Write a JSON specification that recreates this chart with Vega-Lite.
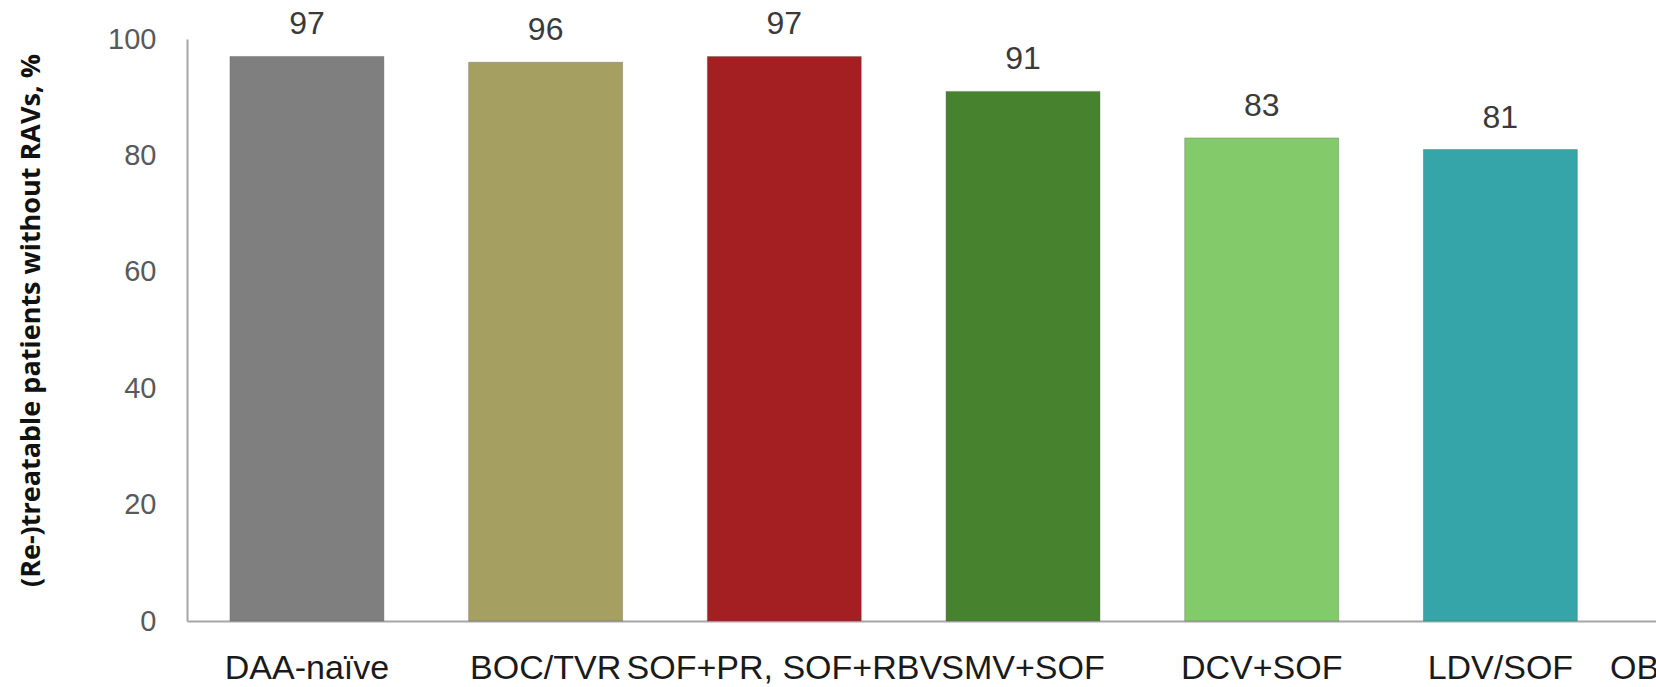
{
  "$schema": "https://vega.github.io/schema/vega-lite/v6.json",
  "autosize": {"type": "none"},
  "padding": {"left": 187, "top": 39, "right": 0, "bottom": 66},
  "width": 1469,
  "height": 582,
  "background": "white",
  "data": {
    "values": [
      {"regimen": "DAA-naïve", "pct": 97},
      {"regimen": "BOC/TVR", "pct": 96},
      {"regimen": "SOF+PR, SOF+RBV", "pct": 97},
      {"regimen": "SMV+SOF", "pct": 91},
      {"regimen": "DCV+SOF", "pct": 83},
      {"regimen": "LDV/SOF", "pct": 81},
      {"regimen": "OBV/PTV/r+DSV", "pct": 85}
    ]
  },
  "encoding": {
    "x": {
      "field": "regimen",
      "type": "nominal",
      "sort": null,
      "scale": {"range": [0, 1672], "paddingInner": 0.355, "paddingOuter": 0.18},
      "axis": {
        "title": null,
        "labelAngle": 0,
        "labelFont": "Liberation Sans",
        "labelFontSize": 34,
        "labelColor": "#1a1a1a",
        "labelPadding": 30,
        "labelLimit": 0,
        "labelOverlap": false,
        "labelBound": false,
        "ticks": false,
        "domainColor": "#a6a6a6",
        "domainWidth": 2
      }
    },
    "y": {
      "field": "pct",
      "type": "quantitative",
      "scale": {"domain": [0, 100], "nice": false},
      "axis": {
        "values": [0, 20, 40, 60, 80, 100],
        "grid": false,
        "ticks": false,
        "domainColor": "#a6a6a6",
        "domainWidth": 2,
        "labelFont": "Liberation Sans",
        "labelFontSize": 29,
        "labelColor": "#595959",
        "labelPadding": 31,
        "title": "(Re-)treatable patients without RAVs, %",
        "titleFont": "Open Sans",
        "titleFontWeight": "bold",
        "titleFontSize": 27,
        "titleColor": "#111111",
        "titleAngle": -90,
        "titleAlign": "center",
        "titleBaseline": "middle",
        "titleX": -156,
        "titleY": 281
      }
    }
  },
  "layer": [
    {
      "mark": {"type": "bar", "strokeWidth": 1, "strokeOpacity": 0.35, "stroke": "#555555"},
      "encoding": {
        "color": {
          "field": "regimen",
          "type": "nominal",
          "sort": null,
          "legend": null,
          "scale": {
            "domain": ["DAA-naïve", "BOC/TVR", "SOF+PR, SOF+RBV", "SMV+SOF", "DCV+SOF", "LDV/SOF", "OBV/PTV/r+DSV"],
            "range": ["#7f7f7f", "#a5a061", "#a41f22", "#47832f", "#83ca6a", "#35a5a9", "#2e6e9e"]
          }
        }
      }
    },
    {
      "mark": {
        "type": "text",
        "baseline": "alphabetic",
        "dy": -22,
        "font": "Liberation Sans",
        "fontSize": 32,
        "color": "#3a3a3a"
      },
      "encoding": {"text": {"field": "pct", "type": "quantitative"}}
    }
  ],
  "config": {"view": {"stroke": null}}
}
